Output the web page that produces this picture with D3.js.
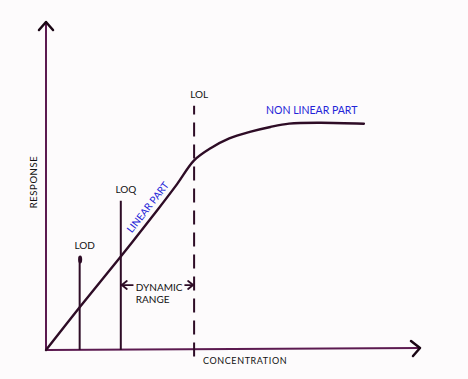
<!DOCTYPE html>
<html>
<head>
<meta charset="utf-8">
<script src="https://cdn.jsdelivr.net/npm/d3@7"></script>
<style>
  html, body { margin: 0; padding: 0; background: #fdfbfc; }
  svg { display: block; }
  text { font-family: Lato, "Open Sans", sans-serif; }
</style>
</head>
<body>
<svg width="468" height="379"></svg>
<script>
'use strict';

// response curve (arbitrary units)
var concentration = [0, 0.9, 2.0, 3.0, 3.5, 3.96, 4.4, 4.9, 5.45, 6.0, 6.5, 7.3, 8.5];
var response      = [0, 1.3, 2.85, 4.3, 5.05, 5.78, 6.15, 6.45, 6.65, 6.8, 6.9, 6.93, 6.9];

// limits: LOD, LOQ, LOL
var limitNames = ['LOD', 'LOQ', 'LOL'];
var limitConc  = [0.9, 2.0, 3.96];
var limitTop   = [2.85, 4.55, 7.45];

var ORIGIN = { X: 46, Y: 350 };
var INK = '#2e0c26';
var AXIS_INK = '#5c1a50';
var BLUE = '#2424d8';

var canvas = d3.select('svg');

var x = d3.scaleLinear().domain([0, 10]).range([ORIGIN.X, 420]);
var y = d3.scaleLinear().domain([0, 10]).range([ORIGIN.Y, 22]);

// axes, drawn as plain arrows
var axes = canvas.append('g')
    .attr('fill', 'none')
    .attr('stroke', AXIS_INK)
    .attr('stroke-width', 2)
    .attr('stroke-linecap', 'round')
    .attr('stroke-linejoin', 'round');

axes.append('path')
    .attr('d', 'M' + x(0) + ',' + y(0) + 'L' + x(0) + ',' + y(10));
axes.append('path')
    .attr('stroke', '#1a0614')
    .attr('stroke-width', 2.5)
    .attr('d', 'M' + (x(0) - 7) + ',' + (y(10) + 8) + 'L' + x(0) + ',' + y(10) + 'L' + (x(0) + 7) + ',' + (y(10) + 8));

axes.append('path')
    .attr('d', 'M' + x(0) + ',' + y(0) + 'L' + x(10) + ',' + (y(0) - 2));
axes.append('path')
    .attr('stroke', '#1a0614')
    .attr('stroke-width', 2.5)
    .attr('d', 'M' + (x(10) - 9) + ',' + (y(0) - 9) + 'L' + x(10) + ',' + (y(0) - 2) + 'L' + (x(10) - 7) + ',' + (y(0) + 6));

// limit lines
var limits = limitNames.map(function(name, i) {
    return { name: name, c: limitConc[i], top: limitTop[i] };
});

canvas.selectAll('line.limit')
    .data(limits)
    .enter()
    .append('line')
    .attr('class', 'limit')
    .attr('stroke', INK)
    .attr('stroke-width', 2)
    .attr('x1', function(d) { return x(d.c); })
    .attr('x2', function(d) { return x(d.c); })
    .attr('y1', function(d) { return d.name === 'LOL' ? y(-0.2) : y(0); })
    .attr('y2', function(d) { return y(d.top); })
    .attr('stroke-dasharray', function(d) { return d.name === 'LOL' ? '14,8' : null; });

// blob at LOD top
canvas.append('ellipse')
    .attr('cx', x(limitConc[0]) + 0.5)
    .attr('cy', y(limitTop[0]) + 3)
    .attr('rx', 2)
    .attr('ry', 4)
    .attr('fill', INK);

canvas.selectAll('text.limit')
    .data(limits)
    .enter()
    .append('text')
    .attr('class', 'limit')
    .attr('x', function(d) { return x(d.c) + 5; })
    .attr('y', function(d) { return y(d.top) - 8; })
    .attr('text-anchor', 'middle')
    .attr('font-size', 10)
    .attr('fill', '#111')
    .text(function(d) { return d.name; });

// response curve
var points = concentration.map(function(c, i) { return [c, response[i]]; });
var line = d3.line()
    .x(function(d) { return x(d[0]); })
    .y(function(d) { return y(d[1]); })
    .curve(d3.curveCatmullRom.alpha(0.5));

canvas.append('path')
    .datum(points)
    .attr('fill', 'none')
    .attr('stroke', INK)
    .attr('stroke-width', 2.4)
    .attr('stroke-linecap', 'round')
    .attr('d', line);

// labels
canvas.append('text')
    .attr('transform', 'translate(37,' + 182 + ') rotate(-90)')
    .attr('text-anchor', 'middle')
    .attr('font-size', 9.5)
    .attr('letter-spacing', 0.6)
    .attr('fill', '#111')
    .text('RESPONSE');

canvas.append('text')
    .attr('x', 203)
    .attr('y', 364)
    .attr('font-size', 9)
    .attr('letter-spacing', 0.6)
    .attr('fill', '#111')
    .text('CONCENTRATION');

canvas.append('text')
    .attr('x', 266)
    .attr('y', 114)
    .attr('font-size', 10.5)
    .attr('fill', BLUE)
    .text('NON LINEAR PART');

canvas.append('text')
    .attr('transform', 'translate(' + (x(2.0) + 11) + ',' + (y(2.85) - 23) + ') rotate(-52)')
    .attr('font-size', 10)
    .attr('fill', BLUE)
    .text('LINEAR PART');

// dynamic range
var rangeY = y(1.98);
var dyn = canvas.append('g')
    .attr('fill', 'none')
    .attr('stroke', INK)
    .attr('stroke-width', 1.8)
    .attr('stroke-linecap', 'round')
    .attr('stroke-linejoin', 'round');
var lx = x(limitConc[1]) + 1, rx = x(limitConc[2]) - 1;
dyn.append('path').attr('d', 'M' + lx + ',' + rangeY + 'L' + (lx + 11) + ',' + rangeY);
dyn.append('path').attr('d', 'M' + (lx + 5) + ',' + (rangeY - 4) + 'L' + lx + ',' + rangeY + 'L' + (lx + 5) + ',' + (rangeY + 4));
dyn.append('path').attr('d', 'M' + (rx - 8) + ',' + rangeY + 'L' + rx + ',' + rangeY);
dyn.append('path').attr('d', 'M' + (rx - 5) + ',' + (rangeY - 4) + 'L' + rx + ',' + rangeY + 'L' + (rx - 5) + ',' + (rangeY + 4));

canvas.append('text')
    .attr('x', lx + 14)
    .attr('y', rangeY + 6)
    .attr('font-size', 10)
    .attr('fill', '#111')
    .text('DYNAMIC');
canvas.append('text')
    .attr('x', lx + 14)
    .attr('y', rangeY + 18)
    .attr('font-size', 10)
    .attr('fill', '#111')
    .text('RANGE');
</script>
</body>
</html>
